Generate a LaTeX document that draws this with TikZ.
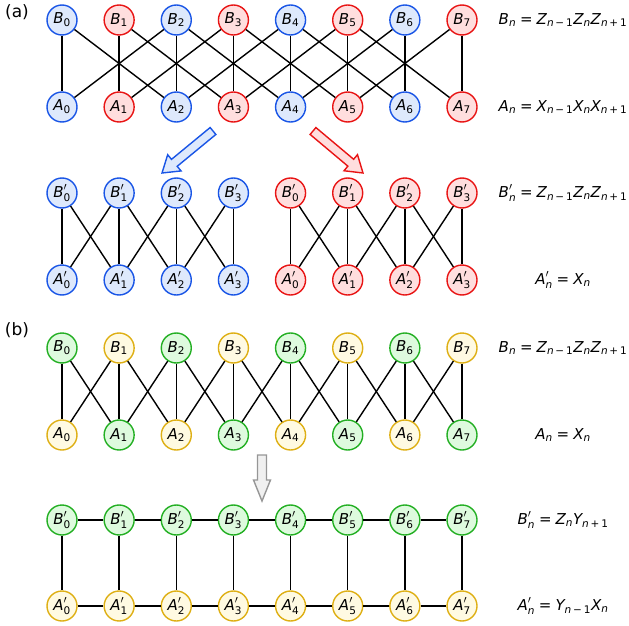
\documentclass[tikz,border=0pt]{standalone}
\usepackage{amsmath}
\usepackage{fontspec}
\setmainfont{DejaVu Sans}
\usetikzlibrary{calc}
\definecolor{bluS}{RGB}{25,85,230}
\definecolor{bluF}{RGB}{222,233,252}
\definecolor{redS}{RGB}{232,20,20}
\definecolor{redF}{RGB}{255,222,222}
\definecolor{grnS}{RGB}{35,175,35}
\definecolor{grnF}{RGB}{222,250,222}
\definecolor{yelS}{RGB}{222,175,20}
\definecolor{yelF}{RGB}{255,250,226}
\definecolor{gryS}{RGB}{150,150,150}
\definecolor{gryF}{RGB}{240,240,240}
\newcommand{\vv}[1]{\textit{#1}}
\newcommand{\uu}[1]{\textup{#1}}
\newcommand{\nmo}{\vv{n}\,\text{−}\,\uu{1}}
\newcommand{\npo}{\vv{n}\,\text{+}\,\uu{1}}
\newcommand{\fatarrow}[5]{% tail, tip, shaft half, head half, head length
  \coordinate (H) at ($(#2)!#5!(#1)$);
  \path ($(#1)!#3!90:(#2)$) coordinate (p1)
        ($(H)!#3!90:(#2)$) coordinate (p2)
        ($(H)!#4!90:(#2)$) coordinate (p3)
        ($(H)!#4!-90:(#2)$) coordinate (p5)
        ($(H)!#3!-90:(#2)$) coordinate (p6)
        ($(#1)!#3!-90:(#2)$) coordinate (p7);
}
\begin{document}
\begin{tikzpicture}[x=1pt,y=-1pt,
  site/.style={circle,minimum size=30pt,inner sep=0pt,line width=1.4pt,font=\fontsize{15}{17}\selectfont},
  sblue/.style={site,draw=bluS,fill=bluF},
  sred/.style={site,draw=redS,fill=redF},
  sgrn/.style={site,draw=grnS,fill=grnF},
  syel/.style={site,draw=yelS,fill=yelF},
  edge/.style={line width=1.4pt,black},
  eqn/.style={font=\fontsize{15}{17}\selectfont,anchor=center,inner sep=0pt},
  plab/.style={font=\fontsize{17}{20}\selectfont,inner sep=0pt},
  arr/.style={line width=1.4pt,line join=miter}]
\useasboundingbox (0,0) rectangle (629,626);

% panel labels
\node[plab] (la) at (17,12) {(a)};
\node[plab] (lb) at (17,330) {(b)};

% (a) top rows
\foreach \i/\st in {0/sblue,1/sred,2/sblue,3/sred,4/sblue,5/sred,6/sblue,7/sred}{
  \node[\st] (aB\i) at ({62+57.1428*\i},20) {$\vv{B}_{\uu{\i}}$};
  \node[\st] (aA\i) at ({62+57.1428*\i},107) {$\vv{A}_{\uu{\i}}$};
}
% (a) middle rows
\foreach \i/\k/\st in {0/0/sblue,1/1/sblue,2/2/sblue,3/3/sblue,4/0/sred,5/1/sred,6/2/sred,7/3/sred}{
  \node[\st] (mB\i) at ({62+57.1428*\i},193) {$\vv{B}'_{\uu{\k}}$};
  \node[\st] (mA\i) at ({62+57.1428*\i},280) {$\vv{A}'_{\uu{\k}}$};
}
% (b) rows
\foreach \i/\sb/\sa in {0/sgrn/syel,1/syel/sgrn,2/sgrn/syel,3/syel/sgrn,4/sgrn/syel,5/syel/sgrn,6/sgrn/syel,7/syel/sgrn}{
  \node[\sb] (bB\i) at ({62+57.1428*\i},348) {$\vv{B}_{\uu{\i}}$};
  \node[\sa] (bA\i) at ({62+57.1428*\i},435) {$\vv{A}_{\uu{\i}}$};
  \node[sgrn] (cB\i) at ({62+57.1428*\i},520) {$\vv{B}'_{\uu{\i}}$};
  \node[syel] (cA\i) at ({62+57.1428*\i},606) {$\vv{A}'_{\uu{\i}}$};
}

% edges (a) top
\foreach \i in {0,...,7}{ \draw[edge] (aB\i) -- (aA\i); }
\foreach \i in {0,...,5}{
  \pgfmathtruncatemacro\j{\i+2}
  \draw[edge] (aB\i) -- (aA\j);
  \draw[edge] (aA\i) -- (aB\j);
}
% edges (a) middle
\foreach \i in {0,...,7}{ \draw[edge] (mB\i) -- (mA\i); }
\foreach \i in {0,1,2,4,5,6}{
  \pgfmathtruncatemacro\j{\i+1}
  \draw[edge] (mB\i) -- (mA\j);
  \draw[edge] (mA\i) -- (mB\j);
}
% edges (b)
\foreach \i in {0,...,7}{ \draw[edge] (bB\i) -- (bA\i); \draw[edge] (cB\i) -- (cA\i); }
\foreach \i in {0,...,6}{
  \pgfmathtruncatemacro\j{\i+1}
  \draw[edge] (bB\i) -- (bA\j);
  \draw[edge] (bA\i) -- (bB\j);
  \draw[edge] (cB\i) -- (cB\j);
  \draw[edge] (cA\i) -- (cA\j);
}

% fat arrows
\coordinate (bt) at (213,131);
\coordinate (bp) at (162,173);
\fatarrow{bt}{bp}{4.5pt}{10.5pt}{16pt}
\draw[arr,draw=bluS,fill=bluF] (p1)--(p2)--(p3)--(bp)--(p5)--(p6)--(p7)--cycle;
\coordinate (rt) at (313,131);
\coordinate (rp) at (363,173);
\fatarrow{rt}{rp}{4.5pt}{10.5pt}{16pt}
\draw[arr,draw=redS,fill=redF] (p1)--(p2)--(p3)--(rp)--(p5)--(p6)--(p7)--cycle;
\coordinate (gt) at (262,455);
\coordinate (gp) at (262,501);
\fatarrow{gt}{gp}{4.5pt}{8.5pt}{21pt}
\draw[arr,draw=gryS,fill=gryF] (p1)--(p2)--(p3)--(gp)--(p5)--(p6)--(p7)--cycle;

% equations
\node[eqn] (e1) at (563,20) {$\vv{B}_{\vv{n}} \mathrel{\text{=}} \vv{Z}_{\nmo}\vv{Z}_{\vv{n}}\vv{Z}_{\npo}$};
\node[eqn] (e2) at (563,107) {$\vv{A}_{\vv{n}} \mathrel{\text{=}} \vv{X}_{\nmo}\vv{X}_{\vv{n}}\vv{X}_{\npo}$};
\node[eqn] (e3) at (563,193) {$\vv{B}'_{\vv{n}} \mathrel{\text{=}} \vv{Z}_{\nmo}\vv{Z}_{\vv{n}}\vv{Z}_{\npo}$};
\node[eqn] (e4) at (563,280) {$\vv{A}'_{\vv{n}} \mathrel{\text{=}} \vv{X}_{\vv{n}}$};
\node[eqn] (e5) at (563,348) {$\vv{B}_{\vv{n}} \mathrel{\text{=}} \vv{Z}_{\nmo}\vv{Z}_{\vv{n}}\vv{Z}_{\npo}$};
\node[eqn] (e6) at (563,435) {$\vv{A}_{\vv{n}} \mathrel{\text{=}} \vv{X}_{\vv{n}}$};
\node[eqn] (e7) at (563,520) {$\vv{B}'_{\vv{n}} \mathrel{\text{=}} \vv{Z}_{\vv{n}}\vv{Y}_{\npo}$};
\node[eqn] (e8) at (563,606) {$\vv{A}'_{\vv{n}} \mathrel{\text{=}} \vv{Y}_{\nmo}\vv{X}_{\vv{n}}$};
\end{tikzpicture}
\end{document}
